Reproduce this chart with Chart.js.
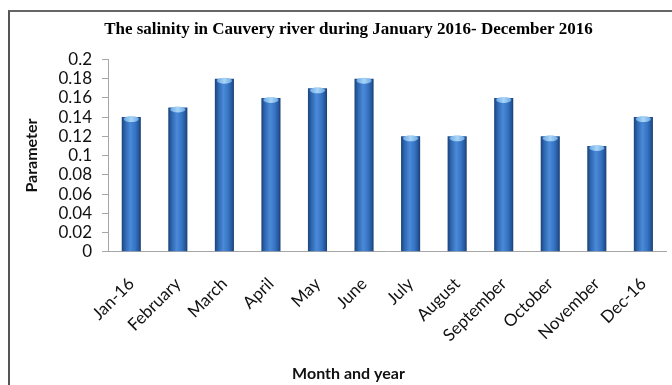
<!DOCTYPE html>
<html>
<head>
<meta charset="utf-8">
<script src="https://cdn.jsdelivr.net/npm/chart.js@4.4.1/dist/chart.umd.min.js"></script>
<style>
  html, body { margin: 0; padding: 0; background: #fff; }
  #wrap { position: relative; width: 672px; height: 385px; overflow: hidden; }
  #frame { position: absolute; left: 8px; top: 10px; width: 700px; height: 420px;
           border-left: 2px solid #555; border-top: 2px solid #666; }
  #graph_ID { position: absolute; left: 0; top: 0; }
</style>
</head>
<body>
<div id="wrap">
  <div id="frame"></div>
  <canvas id="graph_ID" width="672" height="385"></canvas>
</div>
<script>
var months = ['Jan-16', 'February', 'March', 'April', 'May', 'June', 'July',
              'August', 'September', 'October', 'November', 'Dec-16'];
var salinity = [0.14, 0.15, 0.18, 0.16, 0.17, 0.18, 0.12, 0.12, 0.16, 0.12, 0.11, 0.14];
var yTicks = [0, 0.02, 0.04, 0.06, 0.08, 0.1, 0.12, 0.14, 0.16, 0.18, 0.2];

var barPct = 0.41;
var tickFont = { family: 'Lato', size: 17 };

// horizontal shading of every bar, worked out from the x scale
function barFill(context) {
  var chart = context.chart;
  var xs = chart.scales.x;
  if (context.dataIndex === undefined || !xs || !chart.chartArea) {
    return '#3a74c0';
  }
  var cx = xs.getPixelForValue(context.dataIndex);
  var w = xs.width / months.length * barPct;
  var g = chart.ctx.createLinearGradient(cx - w / 2, 0, cx + w / 2, 0);
  g.addColorStop(0, '#1a4379');
  g.addColorStop(0.18, '#2e66b0');
  g.addColorStop(0.45, '#4a8ad8');
  g.addColorStop(0.7, '#3775c4');
  g.addColorStop(0.9, '#24569a');
  g.addColorStop(1, '#173c6c');
  return g;
}

// light cap on the top of each bar
var capPlugin = {
  id: 'caps',
  afterDatasetsDraw: function(chart) {
    var c = chart.ctx;
    chart.getDatasetMeta(0).data.forEach(function(bar) {
      var w = bar.width;
      c.save();
      var g = c.createLinearGradient(bar.x - w / 2, 0, bar.x + w / 2, 0);
      g.addColorStop(0, '#5d9be0');
      g.addColorStop(0.5, '#a9d6f7');
      g.addColorStop(1, '#5d9be0');
      c.fillStyle = g;
      c.beginPath();
      c.ellipse(bar.x, bar.y + 2, w / 2 - 2, 3, 0, 0, Math.PI * 2);
      c.fill();
      c.restore();
    });
  }
};

var mychart = document.getElementById('graph_ID').getContext('2d');
var graphique = new Chart(mychart, {
  type: 'bar',
  data: {
    labels: months,
    datasets: [{
      label: 'Parameter',
      data: salinity,
      backgroundColor: barFill,
      borderWidth: 0,
      barPercentage: barPct,
      categoryPercentage: 1
    }]
  },
  options: {
    responsive: false,
    animation: false,
    layout: { padding: { left: 30, right: 5, top: 0, bottom: 0 } },
    plugins: {
      legend: { display: false },
      tooltip: { enabled: false },
      title: {
        display: true,
        text: 'The salinity in Cauvery river during January 2016- December 2016',
        color: '#000',
        font: { family: 'Liberation Serif', size: 17, weight: 'bold' },
        padding: { top: 19, bottom: 20 }
      },
      subtitle: {
        display: true,
        position: 'bottom',
        text: 'Month and year',
        color: '#111',
        font: { family: 'Lato', size: 16, weight: 'bold' },
        padding: { top: 0, bottom: 2 }
      }
    },
    scales: {
      x: {
        grid: { display: false },
        border: { display: true, color: '#a6a6a6', width: 1 },
        ticks: {
          color: '#111',
          font: tickFont,
          minRotation: 45,
          maxRotation: 45,
          padding: 14,
          autoSkip: false
        },
        afterFit: function(scale) { scale.height = 112; }
      },
      y: {
        min: 0,
        max: 0.2,
        afterBuildTicks: function(scale) {
          scale.ticks = yTicks.map(function(v) { return { value: v }; });
        },
        grid: {
          drawOnChartArea: false,
          drawTicks: true,
          tickLength: 6,
          color: '#a6a6a6'
        },
        border: { display: true, color: '#a6a6a6', width: 1 },
        ticks: {
          color: '#111',
          font: tickFont,
          padding: 10,
          autoSkip: false,
          callback: function(v) { return String(Math.round(v * 100) / 100); }
        },
        title: {
          display: true,
          text: 'Parameter',
          color: '#111',
          font: { family: 'Lato', size: 16, weight: 'bold' },
          padding: { top: -8, bottom: 0 }
        },
        afterFit: function(scale) { scale.width = 78; }
      }
    }
  },
  plugins: [capPlugin]
});
</script>
</body>
</html>
